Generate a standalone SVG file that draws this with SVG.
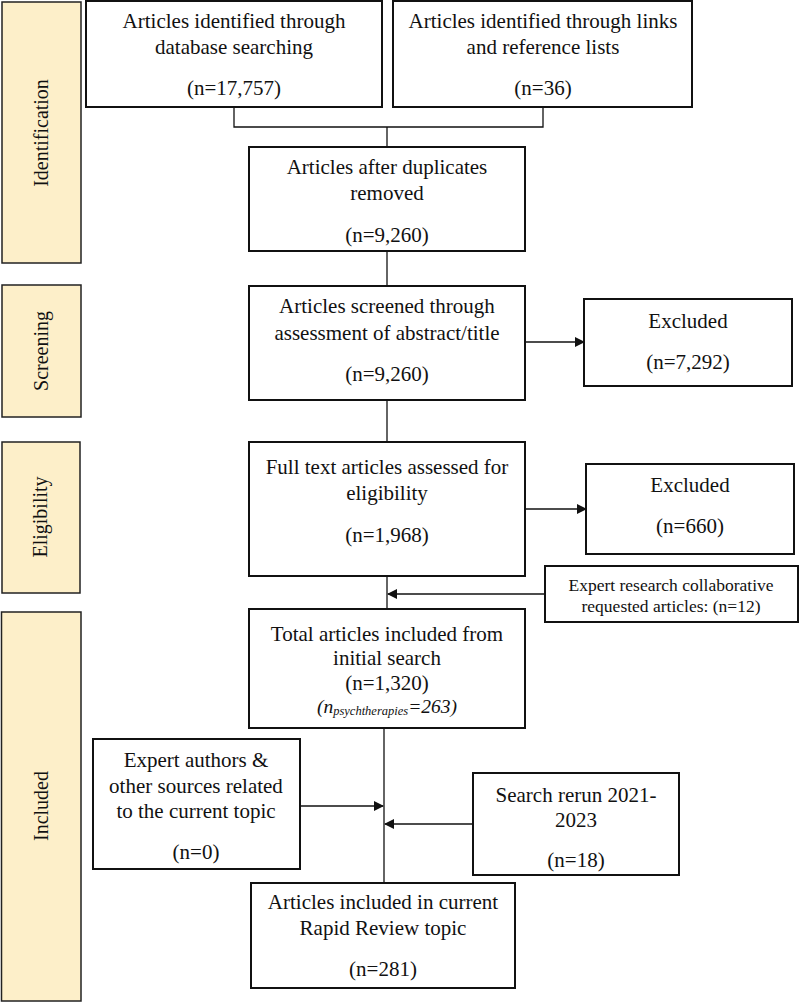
<svg xmlns="http://www.w3.org/2000/svg" width="799" height="1002" viewBox="0 0 799 1002">
<style>
.bar{fill:#fdefc9;stroke:#222;stroke-width:1.5}
.box{fill:#fff;stroke:#111;stroke-width:2}
.t{font-family:'Liberation Serif','Times New Roman',Times,'DejaVu Serif',serif;font-size:21px;fill:#111;text-anchor:middle}
.v{font-size:20px}
.s{font-size:17.5px}
.ln{fill:none;stroke:#111;stroke-width:1.3}
</style>
<defs>
<marker id="ah" markerWidth="10" markerHeight="10" refX="9" refY="5" orient="auto" markerUnits="userSpaceOnUse">
<path d="M0,0 L10,5 L0,10 Z" fill="#111"/>
</marker>
</defs>
<rect width="799" height="1002" fill="#fff"/>
<g id="stage-identification">
<rect class="bar" x="2" y="2" width="79" height="261"/>
<text class="t v" transform="translate(48,133) rotate(-90)">Identification</text>
</g>
<g id="stage-screening">
<rect class="bar" x="2" y="285" width="79" height="132"/>
<text class="t v" transform="translate(48,351) rotate(-90)">Screening</text>
</g>
<g id="stage-eligibility">
<rect class="bar" x="2" y="442" width="78" height="151"/>
<text class="t v" transform="translate(47,517) rotate(-90)">Eligibility</text>
</g>
<g id="stage-included">
<rect class="bar" x="1.5" y="612" width="79.5" height="389"/>
<text class="t v" transform="translate(48,806) rotate(-90)">Included</text>
</g>
<g id="connectors">
<path class="ln" d="M234,107 V127 H543 V107"/>
<path class="ln" d="M387,127 V147"/>
<path class="ln" d="M387,251 V286"/>
<path class="ln" d="M387,400 V442"/>
<path class="ln" d="M387,576 V609"/>
<path class="ln" d="M384,717 V883"/>
<path class="ln" d="M525,342 H584" marker-end="url(#ah)"/>
<path class="ln" d="M525,509 H586" marker-end="url(#ah)"/>
<path class="ln" d="M545,594 H388" marker-end="url(#ah)"/>
<path class="ln" d="M300,806 H383" marker-end="url(#ah)"/>
<path class="ln" d="M473,824 H385" marker-end="url(#ah)"/>
</g>
<g id="db-search">
<rect class="box" x="86" y="1" width="296" height="106"/>
<text class="t" x="234" y="28">Articles identified through</text>
<text class="t" x="234" y="54">database searching</text>
<text class="t" x="234" y="95">(n=17,757)</text>
</g>
<g id="links-search">
<rect class="box" x="393" y="1" width="299" height="106"/>
<text class="t" x="543" y="28">Articles identified through links</text>
<text class="t" x="543" y="54">and reference lists</text>
<text class="t" x="543" y="95">(n=36)</text>
</g>
<g id="duplicates-removed">
<rect class="box" x="249" y="147" width="276" height="104"/>
<text class="t" x="387" y="174">Articles after duplicates</text>
<text class="t" x="387" y="200">removed</text>
<text class="t" x="387" y="242">(n=9,260)</text>
</g>
<g id="screened">
<rect class="box" x="249" y="286" width="276" height="114"/>
<text class="t" x="387" y="313">Articles screened through</text>
<text class="t" x="387" y="340">assessment of abstract/title</text>
<text class="t" x="387" y="381">(n=9,260)</text>
</g>
<g id="excluded-1">
<rect class="box" x="584" y="299" width="208" height="87"/>
<text class="t" x="688" y="328">Excluded</text>
<text class="t" x="688" y="369">(n=7,292)</text>
</g>
<g id="full-text">
<rect class="box" x="249" y="442" width="276" height="134"/>
<text class="t" x="387" y="474">Full text articles assessed for</text>
<text class="t" x="387" y="500">eligibility</text>
<text class="t" x="387" y="542">(n=1,968)</text>
</g>
<g id="excluded-2">
<rect class="box" x="586" y="464" width="208" height="90"/>
<text class="t" x="690" y="492">Excluded</text>
<text class="t" x="690" y="533">(n=660)</text>
</g>
<g id="expert-research">
<rect class="box" x="545" y="566" width="253" height="56"/>
<text class="t s" x="671" y="591">Expert research collaborative</text>
<text class="t s" x="671" y="612">requested articles: (n=12)</text>
</g>
<g id="total-included">
<rect class="box" x="249" y="609" width="276" height="119"/>
<text class="t" x="387" y="641">Total articles included from</text>
<text class="t" x="387" y="665">initial search</text>
<text class="t" x="387" y="690">(n=1,320)</text>
<text class="t" x="387" y="713" font-style="italic"><tspan font-size="19.5">(n</tspan><tspan font-size="12.5" dy="2">psychtherapies</tspan><tspan font-size="19.5" dy="-2">=263)</tspan></text>
</g>
<g id="expert-authors">
<rect class="box" x="93" y="739" width="207" height="130"/>
<text class="t" x="196" y="767">Expert authors &amp;</text>
<text class="t" x="196" y="793">other sources related</text>
<text class="t" x="196" y="818">to the current topic</text>
<text class="t" x="196" y="859">(n=0)</text>
</g>
<g id="search-rerun">
<rect class="box" x="473" y="773" width="206" height="102"/>
<text class="t" x="576" y="802">Search rerun 2021-</text>
<text class="t" x="576" y="827">2023</text>
<text class="t" x="576" y="867">(n=18)</text>
</g>
<g id="final-included">
<rect class="box" x="251" y="883" width="264" height="105"/>
<text class="t" x="383" y="909">Articles included in current</text>
<text class="t" x="383" y="935">Rapid Review topic</text>
<text class="t" x="383" y="976">(n=281)</text>
</g>
</svg>
